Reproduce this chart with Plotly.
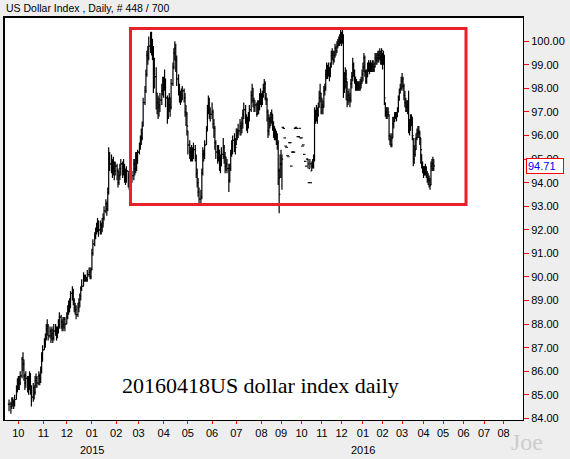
import pandas as pd
import plotly.graph_objects as go

# ---------------- data ----------------
first_day = "2014-09-19"
last_day = "2016-04-18"
last_price = 94.71

close = [
    84.6, 84.5, 84.8, 84.7, 84.6, 84.8, 85.2, 85.5,  # 2014-09
    85.6, 85.5, 85.8, 86.5, 86.3, 85.8, 85.5, 85.7, 85.6, 85.4, 85.9, 85.3, 84.9, 85.3, 85.1, 85.6, 85.7, 85.5, 85.8, 85.7, 86.0, 86.6, 86.9,  # 2014-10
    87.2, 87.4, 87.8, 87.9, 87.5, 87.7, 87.5, 87.6, 87.4, 87.7, 87.8, 87.5, 87.7, 88.0, 88.3, 88.1, 87.9, 88.0, 88.2, 88.0,  # 2014-11
    88.3, 88.6, 88.9, 88.7, 89.3, 89.4, 89.0, 88.7, 88.6, 88.4, 88.7, 88.9, 89.2, 89.5, 89.6, 89.9, 90.0, 89.9, 89.9, 90.1, 90.2, 90.0, 90.3,  # 2014-12
    91.0, 91.4, 91.7, 92.0, 92.1, 92.3, 92.0, 92.2, 92.1, 92.3, 92.5, 92.8, 93.1, 92.9, 93.6, 95.0, 94.8, 94.9, 94.6, 94.8, 94.5, 94.7,  # 2015-01
    94.5, 94.0, 94.3, 94.6, 94.8, 94.5, 94.7, 94.4, 94.2, 94.5, 94.2, 94.0, 93.9, 94.2, 94.3, 94.8, 94.6, 95.1, 94.9, 95.3,  # 2015-02
    95.5, 95.8, 95.9, 96.4, 97.4, 97.9, 98.6, 99.4, 99.3, 99.8, 100.1, 99.9, 99.6, 98.6, 98.5, 97.8, 97.4, 97.2, 97.3, 97.5, 97.9, 98.3,  # 2015-03
    98.0, 98.4, 97.6, 96.8, 97.3, 97.6, 97.2, 98.2, 98.9, 99.5, 99.7, 99.2, 98.4, 97.9, 97.7, 97.5, 97.7, 97.9, 97.6, 97.0, 96.9, 96.4,  # 2015-04
    95.6, 95.3, 95.0, 95.4, 95.2, 95.4, 95.1, 94.4, 94.0, 93.6, 93.3, 93.4, 94.4, 95.2, 95.2, 95.6, 96.2, 97.1, 97.4, 96.9, 96.9,  # 2015-05
    97.0, 96.5, 96.3, 95.7, 95.3, 95.1, 95.3, 95.0, 94.8, 95.2, 95.5, 95.1, 94.7, 94.8, 94.6, 94.1, 94.6, 95.2, 95.5, 95.8, 95.6, 95.5,  # 2015-06
    96.0, 96.1, 96.2, 96.4, 96.3, 96.5, 96.9, 97.1, 96.8, 96.5, 96.4, 96.8, 97.1, 97.7, 98.0, 97.5, 97.2, 97.3, 96.9, 97.3, 97.1, 97.4, 97.6,  # 2015-07
    97.5, 97.7, 98.0, 98.2, 97.6, 97.5, 97.0, 96.2, 96.7, 96.6, 96.9, 96.9, 96.5, 96.3, 96.0, 96.1, 95.9, 95.7, 94.5, 93.5, 94.8,  # 2015-08
    94.8, 95.0, 96.35, 96.3, 95.9, 95.55, 95.5, 95.15, 95.1, 95.7, 95.7, 94.7, 95.3, 95.3, 95.3, 96.3, 96.35, 96.3, 95.95, 95.95, 96.3, 95.9,  # 2015-09
    95.9, 95.55, 95.6, 95.2, 94.9, 94.7, 95.0, 94.8, 94.0, 94.8, 94.0, 94.7, 94.8, 95.0, 96.6, 96.9, 97.0, 96.9, 97.2, 97.6, 97.8, 97.2,  # 2015-10
    97.3, 97.2, 97.9, 98.0, 98.6, 98.9, 98.6, 98.8, 98.5, 98.9, 99.4, 99.5, 99.2, 99.4, 99.7, 99.6, 99.8, 99.9, 100.0, 100.1, 100.3,  # 2015-11
    100.1, 100.2, 98.0, 98.3, 98.6, 98.4, 97.5, 97.7, 97.6, 97.5, 98.2, 98.5, 99.0, 98.7, 98.4, 98.0, 98.2, 98.0, 98.1, 98.0, 98.2, 98.3, 98.6,  # 2015-12
    98.9, 99.3, 98.7, 98.3, 98.5, 99.0, 99.0, 98.8, 99.0, 98.9, 99.0, 98.8, 98.9, 99.3, 99.2, 99.3, 99.4, 99.3, 99.5, 99.3, 99.6,  # 2016-01
    99.2, 99.4, 97.6, 97.0, 96.9, 96.9, 97.0, 96.0, 95.8, 95.6, 95.9, 96.5, 96.6, 96.8, 96.9, 96.8, 97.0, 97.5, 97.8, 98.0, 98.3,  # 2016-02
    98.4, 98.1, 97.7, 97.4, 97.2, 97.3, 97.2, 96.4, 96.3, 96.6, 96.6, 96.0, 95.0, 95.2, 95.4, 95.9, 96.1, 96.2, 96.1, 95.9, 95.4, 94.8, 94.6,  # 2016-03
    94.5, 94.6, 94.6, 94.4, 94.2, 94.1, 94.1, 93.9, 94.7, 94.8, 94.6, 94.71,  # 2016-04
]

high = [
    84.8, 84.7, 84.9, 84.9, 84.8, 85.0, 85.4, 85.7,  # 2014-09
    85.8, 85.8, 86.0, 86.6, 86.8, 86.5, 85.9, 86.0, 85.8, 85.8, 86.0, 85.9, 85.4, 85.5, 85.4, 85.8, 85.9, 85.8, 86.0, 85.9, 86.2, 86.8, 87.1,  # 2014-10
    87.4, 87.6, 88.0, 88.2, 88.0, 87.9, 87.8, 87.9, 87.8, 88.0, 88.0, 87.9, 87.9, 88.2, 88.5, 88.4, 88.2, 88.3, 88.3, 88.3,  # 2014-11
    88.5, 88.8, 89.0, 89.1, 89.4, 89.6, 89.5, 89.1, 88.9, 88.8, 88.9, 89.1, 89.3, 89.6, 89.9, 90.2, 90.1, 90.1, 90.0, 90.3, 90.4, 90.4, 90.4,  # 2014-12
    91.2, 91.6, 91.9, 92.1, 92.3, 92.5, 92.4, 92.4, 92.3, 92.5, 92.7, 93.0, 93.3, 93.2, 93.8, 95.5, 95.3, 95.2, 95.0, 95.1, 94.9, 94.9,  # 2015-01
    94.8, 94.6, 94.5, 94.8, 95.0, 94.9, 95.0, 94.8, 94.6, 94.7, 94.5, 94.4, 94.3, 94.4, 94.5, 95.0, 95.0, 95.3, 95.3, 95.4,  # 2015-02
    95.7, 96.0, 96.3, 96.6, 97.6, 98.1, 98.8, 99.6, 99.8, 100.2, 100.4, 100.4, 100.1, 99.8, 99.3, 98.9, 97.8, 97.7, 97.6, 97.8, 98.2, 98.5,  # 2015-03
    98.5, 98.8, 98.4, 97.7, 97.6, 97.8, 97.6, 98.4, 99.1, 99.7, 100.0, 99.9, 99.4, 98.6, 98.2, 97.9, 98.0, 98.1, 98.0, 97.8, 97.3, 97.0,  # 2015-04
    96.2, 95.8, 95.5, 95.6, 95.5, 95.7, 95.6, 95.2, 94.6, 94.2, 93.8, 93.7, 94.6, 95.5, 95.4, 95.8, 96.4, 97.3, 97.7, 97.6, 97.2,  # 2015-05
    97.4, 97.1, 96.7, 96.4, 95.8, 95.6, 95.6, 95.4, 95.2, 95.5, 95.9, 95.6, 95.3, 95.1, 95.0, 94.8, 94.8, 95.4, 95.8, 96.0, 96.1, 95.9,  # 2015-06
    96.3, 96.3, 96.5, 96.7, 96.6, 96.8, 97.1, 97.4, 97.3, 96.9, 96.8, 97.0, 97.3, 97.9, 98.2, 98.0, 97.6, 97.5, 97.4, 97.5, 97.5, 97.8, 98.0,  # 2015-07
    97.8, 97.9, 98.2, 98.4, 98.3, 97.8, 97.6, 97.1, 96.9, 96.8, 97.0, 97.1, 96.9, 96.6, 96.4, 96.3, 96.2, 96.1, 95.8, 94.6, 95.2,  # 2015-08
    95.4, 95.2, 96.35, 96.3, 95.9, 95.55, 95.5, 95.15, 95.1, 95.7, 95.7, 94.7, 95.3, 95.3, 95.3, 96.3, 96.35, 96.3, 95.95, 95.95, 96.3, 95.9,  # 2015-09
    95.9, 95.55, 95.6, 95.2, 94.9, 94.7, 95.0, 95.0, 94.0, 95.0, 94.0, 94.9, 95.0, 95.2, 97.2, 97.1, 97.3, 97.2, 97.4, 97.9, 98.2, 97.8,  # 2015-10
    97.6, 97.5, 98.1, 98.2, 98.8, 99.1, 99.0, 99.1, 98.9, 99.1, 99.6, 99.7, 99.6, 99.6, 99.9, 99.8, 100.0, 100.1, 100.2, 100.3, 100.5,  # 2015-11
    100.4, 100.5, 100.3, 98.7, 98.9, 98.8, 98.3, 97.9, 98.0, 97.8, 98.4, 98.7, 99.3, 99.1, 98.8, 98.5, 98.4, 98.3, 98.3, 98.3, 98.4, 98.5, 98.8,  # 2015-12
    99.1, 99.5, 99.4, 98.8, 98.8, 99.1, 99.2, 99.1, 99.2, 99.1, 99.2, 99.2, 99.1, 99.5, 99.5, 99.5, 99.6, 99.6, 99.7, 99.6, 99.7,  # 2016-01
    99.5, 99.6, 99.4, 97.4, 97.2, 97.2, 97.2, 96.9, 96.1, 96.0, 96.1, 96.8, 96.8, 97.0, 97.0, 97.0, 97.2, 97.7, 98.0, 98.2, 98.5,  # 2016-02
    98.65, 98.5, 98.2, 97.9, 97.6, 97.5, 97.5, 97.9, 96.7, 96.9, 96.9, 96.8, 95.9, 95.6, 95.9, 96.1, 96.3, 96.4, 96.4, 96.2, 95.9, 95.2, 94.9,  # 2016-03
    94.7, 94.7, 94.8, 94.7, 94.5, 94.4, 94.3, 94.2, 94.9, 95.0, 95.1, 95.0,  # 2016-04
]

low = [
    84.3, 84.2, 84.4, 84.5, 84.4, 84.5, 84.8, 85.1,  # 2014-09
    85.2, 85.2, 85.4, 85.7, 86.0, 85.6, 85.2, 85.3, 85.1, 85.0, 85.2, 85.0, 84.5, 84.7, 84.8, 85.0, 85.3, 85.3, 85.4, 85.4, 85.5, 85.9, 86.4,  # 2014-10
    86.9, 87.0, 87.3, 87.5, 87.3, 87.4, 87.2, 87.3, 87.2, 87.3, 87.5, 87.3, 87.4, 87.6, 87.8, 87.8, 87.7, 87.7, 87.8, 87.7,  # 2014-11
    88.0, 88.2, 88.4, 88.5, 88.7, 89.0, 88.8, 88.5, 88.4, 88.2, 88.3, 88.5, 88.7, 89.0, 89.4, 89.6, 89.8, 89.8, 89.8, 89.8, 90.0, 89.9, 89.9,  # 2014-12
    90.3, 90.9, 91.3, 91.6, 91.8, 91.9, 91.7, 91.8, 91.8, 91.9, 92.1, 92.4, 92.7, 92.6, 92.8, 93.5, 94.5, 94.4, 94.2, 94.3, 94.1, 94.3,  # 2015-01
    94.1, 93.8, 93.9, 94.1, 94.3, 94.2, 94.3, 94.0, 93.9, 94.0, 93.8, 93.7, 93.7, 93.8, 94.0, 94.1, 94.3, 94.4, 94.5, 94.8,  # 2015-02
    95.2, 95.4, 95.6, 95.8, 96.4, 97.3, 97.8, 98.5, 99.0, 99.2, 99.5, 99.4, 99.2, 97.8, 98.0, 97.1, 96.9, 96.7, 96.8, 97.0, 97.3, 97.7,  # 2015-03
    97.6, 97.9, 97.2, 96.5, 96.7, 97.0, 96.8, 97.1, 98.1, 98.8, 99.2, 98.7, 98.1, 97.7, 97.4, 97.3, 97.4, 97.5, 97.4, 96.8, 96.4, 96.0,  # 2015-04
    95.2, 95.0, 94.9, 94.9, 94.9, 95.0, 94.9, 94.2, 93.8, 93.4, 93.1, 93.1, 93.3, 94.3, 94.9, 95.0, 95.6, 96.2, 96.9, 96.7, 96.6,  # 2015-05
    96.7, 96.3, 95.9, 95.4, 95.0, 94.8, 94.9, 94.5, 94.4, 94.7, 95.0, 94.8, 94.4, 94.5, 94.4, 93.6, 94.0, 94.5, 95.1, 95.2, 95.3, 95.2,  # 2015-06
    95.6, 95.8, 95.9, 96.0, 96.0, 96.1, 96.3, 96.7, 96.5, 96.2, 96.1, 96.3, 96.6, 97.0, 97.4, 97.2, 97.0, 97.0, 96.8, 96.9, 96.9, 97.1, 97.3,  # 2015-07
    97.2, 97.3, 97.6, 97.8, 97.5, 97.3, 96.6, 95.9, 96.0, 96.3, 96.4, 96.5, 96.2, 95.9, 95.8, 95.8, 95.6, 95.4, 93.9, 92.7, 94.2,  # 2015-08
    94.2, 93.7, 96.35, 96.3, 95.9, 95.55, 95.5, 95.15, 95.1, 95.7, 95.7, 94.7, 95.3, 95.3, 95.3, 96.3, 96.35, 96.3, 95.95, 95.95, 96.3, 95.9,  # 2015-09
    95.9, 95.55, 95.6, 95.2, 94.9, 94.7, 95.0, 94.6, 94.0, 94.6, 94.0, 94.5, 94.6, 94.6, 94.9, 96.5, 96.6, 96.5, 96.8, 97.2, 97.4, 96.9,  # 2015-10
    96.9, 96.9, 97.2, 97.7, 97.9, 98.4, 98.4, 98.5, 98.3, 98.5, 98.9, 99.2, 99.0, 99.1, 99.3, 99.4, 99.5, 99.7, 99.8, 99.8, 99.9,  # 2015-11
    99.8, 99.9, 97.6, 97.8, 98.0, 97.5, 97.2, 97.3, 97.4, 97.2, 97.4, 98.0, 98.3, 98.5, 98.2, 97.9, 97.9, 97.9, 97.9, 97.9, 97.9, 98.0, 98.2,  # 2015-12
    98.3, 98.7, 98.5, 98.2, 98.2, 98.5, 98.7, 98.6, 98.7, 98.7, 98.7, 98.7, 98.7, 98.9, 99.0, 99.0, 99.1, 99.1, 99.2, 99.0, 99.0,  # 2016-01
    98.8, 99.0, 97.3, 96.8, 96.7, 96.7, 96.8, 95.8, 95.6, 95.5, 95.5, 95.9, 96.3, 96.6, 96.7, 96.6, 96.8, 97.0, 97.5, 97.8, 97.9,  # 2016-02
    98.0, 97.9, 97.5, 97.2, 97.0, 97.0, 96.9, 96.1, 96.0, 96.2, 96.4, 95.8, 94.7, 94.8, 95.1, 95.4, 95.8, 95.9, 95.9, 95.6, 94.8, 94.6, 94.4,  # 2016-03
    94.2, 94.3, 94.3, 94.2, 94.0, 93.9, 93.8, 93.7, 93.9, 94.5, 94.5, 94.5,  # 2016-04
]

price_ticks = list(range(84, 101))
month_labels_start = "2014-10"
month_labels_end = "2016-08"

# ---------------- bar slots (this chart puts Sunday sessions in until Aug 2015) -------
dates = pd.bdate_range(first_day, last_day)
n = min(len(dates), len(close), len(high), len(low))
dates = dates[:n]
calendar = pd.date_range(first_day, "2016-09-30")
sunday_cutoff = pd.Timestamp("2015-08-01")
slot_days = [d for d in calendar if d.weekday() < 5 or (d.weekday() == 6 and d < sunday_cutoff)]
slot_of = {d: i for i, d in enumerate(slot_days)}
xpos = [slot_of[d] for d in dates]

# month ticks at first slot of each month
months = pd.period_range(month_labels_start, month_labels_end, freq="M")
tickvals, ticktext, year_pos = [], [], []
for m in months:
    first = next(d for d in slot_days if d.year == m.year and d.month == m.month)
    tickvals.append(slot_of[first])
    ticktext.append(f"{m.month:02d}")
    if m.month == 1:
        year_pos.append((slot_of[first], str(m.year)))

# ---------------- OHLC bars as line segments ----------------
tick = 1.3
xs, ys = [], []
prev_c = None
for i in range(n):
    xi, h, l, c = xpos[i], high[i], low[i], close[i]
    o = c if prev_c is None else min(max(prev_c, l), h)
    xs += [xi, xi, None, xi - tick, xi, None, xi, xi + tick, None]
    ys += [l, h, None, o, o, None, c, c, None]
    prev_c = c

fig = go.Figure()
fig.add_trace(go.Scatter(x=xs, y=ys, mode="lines", line=dict(color="black", width=1.2),
                         hoverinfo="skip", showlegend=False))

FONT = "Liberation Sans"
fig.update_layout(
    width=570, height=459,
    margin=dict(l=4, r=47, t=17, b=39, autoexpand=False),
    paper_bgcolor="#EEEEEE", plot_bgcolor="white",
    showlegend=False,
    font=dict(family=FONT, size=11, color="black"),
    xaxis=dict(range=[-5.4, 551.8], tickvals=tickvals, ticktext=ticktext,
               ticks="outside", ticklen=3, tickcolor="red", tickwidth=1,
               showgrid=False, zeroline=False, showline=True, linecolor="black",
               linewidth=1, mirror=True, tickfont=dict(size=11, family=FONT),
               automargin=False),
    yaxis=dict(side="right", range=[83.93, 101.03], tickvals=price_ticks,
               ticktext=[f"{v:.2f}" for v in price_ticks],
               ticks="outside", ticklen=5, tickcolor="red", tickwidth=1,
               showgrid=False, zeroline=False, showline=True, linecolor="black",
               linewidth=1, mirror=True, tickfont=dict(size=11, family=FONT),
               automargin=False),
)

# sunken frame: thicker left / top edges
fig.add_shape(type="line", xref="paper", yref="paper", x0=0, x1=0, y0=0, y1=1,
              line=dict(color="black", width=2))
fig.add_shape(type="line", xref="paper", yref="paper", x0=0, x1=1, y0=1, y1=1,
              line=dict(color="black", width=2))

# red highlight box
fig.add_shape(type="rect", xref="paper", yref="paper",
              x0=0.2437, x1=0.8902, y0=0.5347, y1=0.9715,
              line=dict(color="#E8202A", width=3), fillcolor="rgba(0,0,0,0)")

# title
fig.add_annotation(text="US Dollar Index , Daily, # 448 / 700", xref="paper", yref="paper",
                   x=0, y=1.0223, xanchor="left", yanchor="middle", showarrow=False,
                   font=dict(size=10.5, family=FONT, color="black"))

# year labels
for xv, yr in year_pos:
    fig.add_annotation(text=yr, xref="x", yref="paper", x=xv, y=-0.0744,
                       xanchor="center", yanchor="middle", showarrow=False,
                       font=dict(size=11, family=FONT, color="black"))

# last price marker
fig.add_annotation(text=f"{last_price:.2f}", xref="paper", yref="y", x=1, y=last_price,
                   xanchor="left", yanchor="middle", xshift=3, showarrow=False,
                   bgcolor="white", bordercolor="red", borderwidth=1, borderpad=1,
                   width=34, align="left",
                   font=dict(size=11, family=FONT, color="blue"))

# caption
fig.add_annotation(text="20160418US dollar index daily", xref="paper", yref="paper",
                   x=0.495, y=0.0868, xanchor="center", yanchor="middle", showarrow=False,
                   font=dict(size=22, family="Liberation Serif", color="black"))

# watermark
fig.add_annotation(text="Joe", xref="paper", yref="paper", x=1.0077, y=-0.0546,
                   xanchor="center", yanchor="middle", showarrow=False,
                   font=dict(size=24, family="Liberation Serif", color="#CCCCCC"))

fig.write_html("out.html", config={"displayModeBar": False},
               post_script="document.body.style.margin='0px';document.body.style.overflow='hidden';")
